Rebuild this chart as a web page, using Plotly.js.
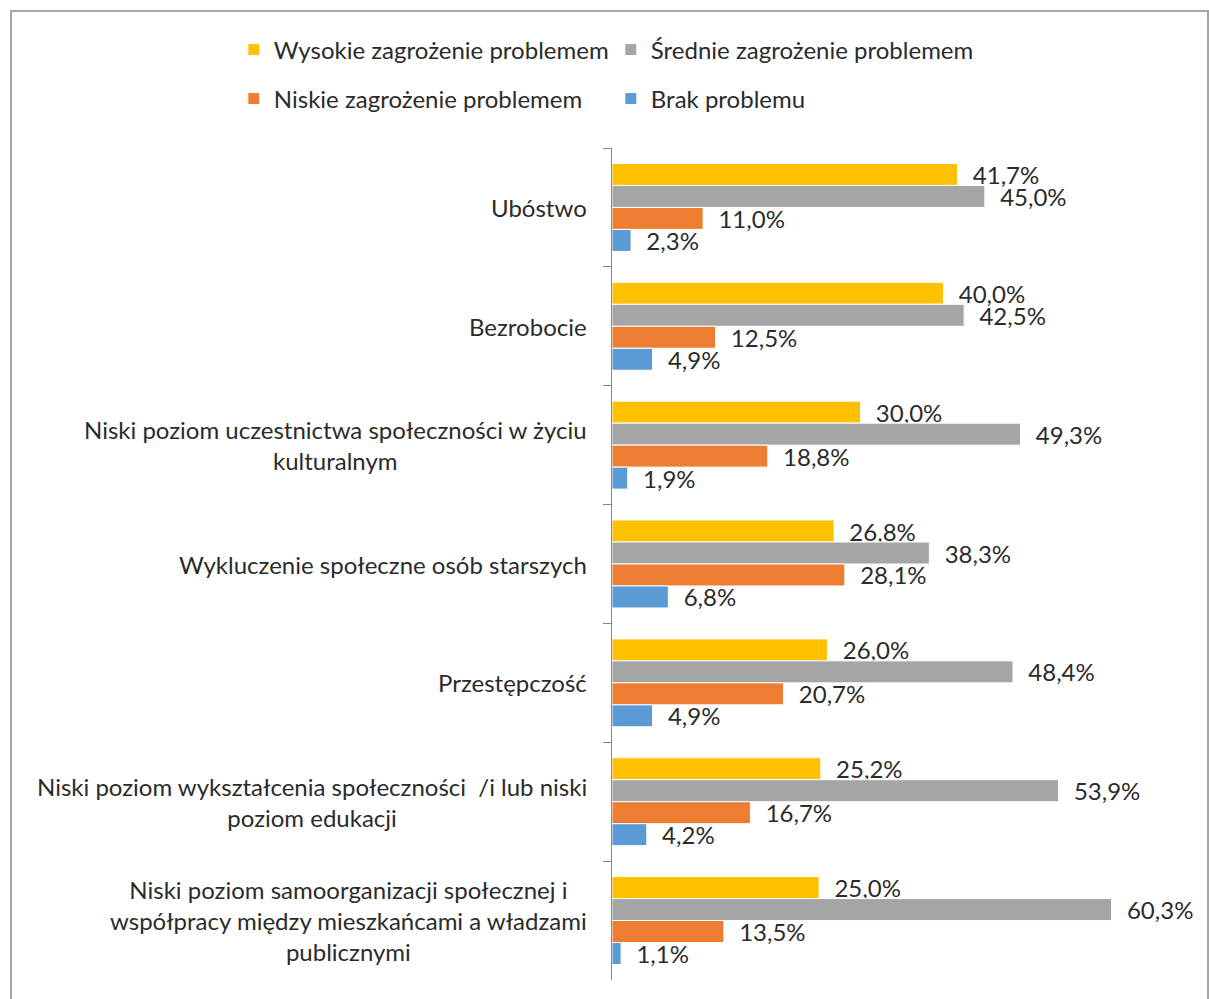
<!DOCTYPE html>
<html>
<head>
<meta charset="utf-8">
<script src="https://cdn.plot.ly/plotly-3.0.1.min.js"></script>
<style>
  html, body { margin: 0; padding: 0; background: #fff; }
  #chart { width: 1209px; height: 999px; }
</style>
</head>
<body>
<div id="chart"></div>
<script>
// dane z wykresu (w %)
var categories = [
    'Ubóstwo',
    'Bezrobocie',
    'Niski poziom uczestnictwa społeczności w życiu kulturalnym',
    'Wykluczenie społeczne osób starszych',
    'Przestępczość',
    'Niski poziom wykształcenia społeczności /i lub niski poziom edukacji',
    'Niski poziom samoorganizacji społecznej i współpracy między mieszkańcami a władzami publicznymi'
];

var categoryLabels = [
    'Ubóstwo',
    'Bezrobocie',
    'Niski poziom uczestnictwa społeczności w życiu<br>kulturalnym',
    'Wykluczenie społeczne osób starszych',
    'Przestępczość',
    'Niski poziom wykształcenia społeczności  /i lub niski<br>poziom edukacji',
    'Niski poziom samoorganizacji społecznej i<br>współpracy między mieszkańcami a władzami<br>publicznymi'
];

var seriesNames = [
    'Wysokie zagrożenie problemem',
    'Średnie zagrożenie problemem',
    'Niskie zagrożenie problemem',
    'Brak problemu'
];

var wysokie = [41.7, 40.0, 30.0, 26.8, 26.0, 25.2, 25.0];
var srednie = [45.0, 42.5, 49.3, 38.3, 48.4, 53.9, 60.3];
var niskie  = [11.0, 12.5, 18.8, 28.1, 20.7, 16.7, 13.5];
var brak    = [2.3, 4.9, 1.9, 6.8, 4.9, 4.2, 1.1];

var colors = ['#FFC000', '#A5A5A5', '#ED7D31', '#5B9BD5'];
var FONT = 'Lato, "Open Sans", sans-serif';
var FSIZE = 24;

function fmt(v) {
    return '\u00a0\u00a0' + v.toFixed(1).replace('.', ',') + '%';
}

var allSeries = [wysokie, srednie, niskie, brak];
var legendIds = ['legend', 'legend', 'legend2', 'legend2'];

var traces = allSeries.map(function (vals, i) {
    return {
        type: 'bar',
        orientation: 'h',
        name: seriesNames[i],
        x: vals,
        y: categories,
        text: vals.map(fmt),
        textposition: 'outside',
        textfont: { family: FONT, size: FSIZE, color: '#2b2b2b' },
        constraintext: 'none',
        cliponaxis: false,
        marker: { color: colors[i], line: { color: '#ffffff', width: 1 } },
        legend: legendIds[i],
        hoverinfo: 'x+name'
    };
});

var annotations = categories.map(function (c, i) {
    return {
        xref: 'paper', yref: 'y',
        x: 0, y: c,
        xshift: -23,
        xanchor: 'right', yanchor: 'middle',
        align: 'center',
        showarrow: false,
        text: categoryLabels[i],
        font: { family: FONT, size: FSIZE, color: '#2b2b2b' }
    };
});

// legenda w dwóch wierszach (dwie legendy)
var legendCommon = {
    orientation: 'h',
    xref: 'paper', yref: 'paper',
    x: -0.652,
    xanchor: 'left', yanchor: 'middle',
    entrywidth: 332,
    font: { family: FONT, size: FSIZE, color: '#2b2b2b' },
    bgcolor: 'rgba(0,0,0,0)',
    traceorder: 'normal'
};

var layout = {
    width: 1209,
    height: 999,
    margin: { l: 612, r: 17, t: 148, b: 19 },
    paper_bgcolor: '#ffffff',
    plot_bgcolor: '#ffffff',
    barmode: 'group',
    bargap: 0.26,
    bargroupgap: 0,
    showlegend: true,
    legend: Object.assign({}, legendCommon, { y: 930 / 832 }),
    legend2: Object.assign({}, legendCommon, { y: 881 / 832 }),
    xaxis: {
        range: [0, 70],
        visible: false,
        fixedrange: true
    },
    yaxis: {
        type: 'category',
        autorange: 'reversed',
        showline: true,
        linecolor: '#868686',
        linewidth: 1,
        ticks: 'outside',
        tickson: 'boundaries',
        ticklen: 8,
        tickcolor: '#868686',
        showticklabels: false,
        showgrid: false,
        zeroline: false,
        fixedrange: true
    },
    annotations: annotations,
    shapes: [{
        type: 'rect',
        xref: 'paper', yref: 'paper',
        x0: (11 - 612) / 580, x1: (1208 - 612) / 580,
        y0: -0.1, y1: 1 + (148 - 11) / 832,
        line: { color: '#A6A6A6', width: 2 },
        fillcolor: 'rgba(0,0,0,0)',
        layer: 'below'
    }]
};

Plotly.newPlot('chart', traces, layout, { displayModeBar: false, staticPlot: true });
</script>
</body>
</html>
